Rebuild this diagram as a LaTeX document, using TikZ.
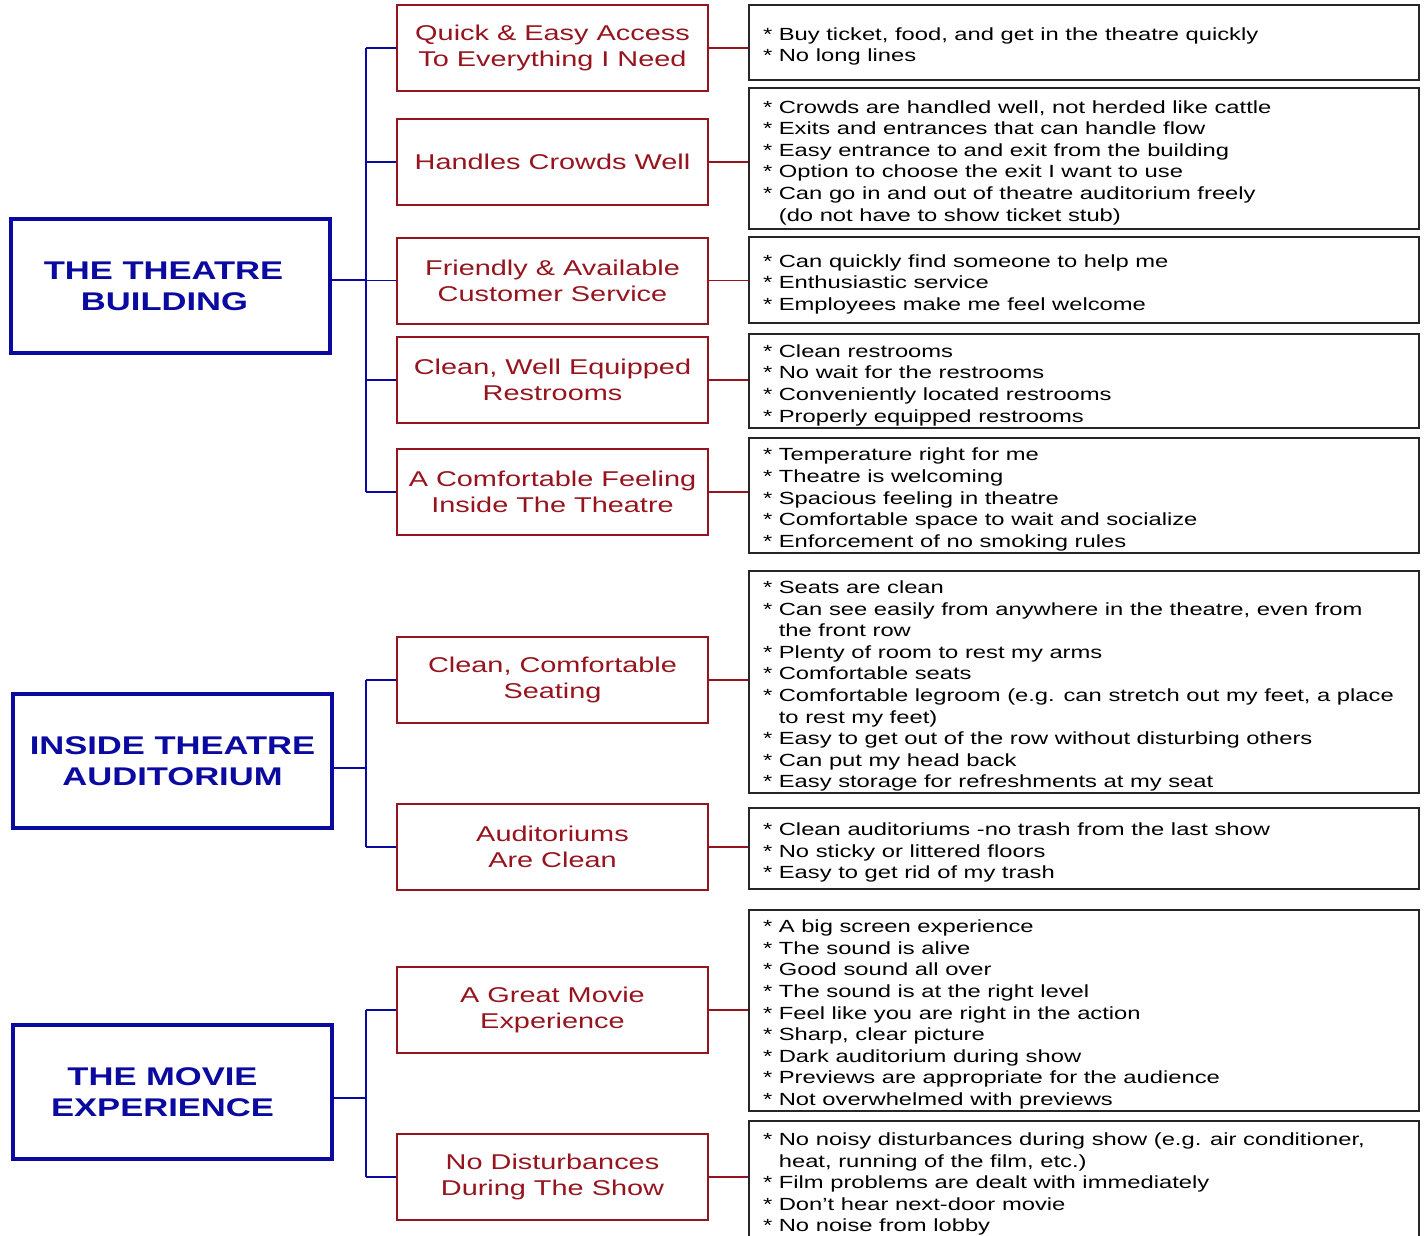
\documentclass[tikz,border=0pt]{standalone}
\usepackage{fontspec}
\setmainfont[FakeStretch=1.35]{Liberation Sans}
\usetikzlibrary{calc}
\definecolor{tblue}{RGB}{10,10,160}
\definecolor{tred}{RGB}{150,20,30}
\newcommand{\bitem}{\relax* }
\newcommand{\hang}{\hphantom{* }}

\begin{document}
\begin{tikzpicture}[x=0.5pt, y=-0.5pt,
    topic/.style={draw=tblue, line width=1.8pt, minimum width=159.5pt, minimum height=67pt,
        align=center, text=tblue, font=\fontsize{12.8}{15.5}\selectfont\bfseries},
    need/.style={draw=tred, line width=1pt, minimum width=155.5pt, minimum height=43pt,
        inner sep=1pt, align=center, text=tred, font=\fontsize{10.7}{13}\selectfont},
    detail/.style={draw=black!85, line width=0.9pt, text width=321pt, inner xsep=7pt,
        inner ysep=0pt, align=flush left, font=\fontsize{8.8}{10.8}\selectfont,
        execute at begin node={\rule{0pt}{10.5pt}}},
    bus/.style={tblue, line width=0.8pt},
    link/.style={tred, line width=0.8pt}]
    \useasboundingbox (0,0) rectangle (1424,1236);
    % three main areas
    \node[topic] (tb) at (170.5,286) {THE THEATRE\hspace*{7pt}\\BUILDING\hspace*{6pt}};
    \node[topic] (ia) at (172.5,761) {INSIDE THEATRE\\AUDITORIUM};
    \node[topic] (me) at (172.5,1092) {THE MOVIE\hspace*{10pt}\\EXPERIENCE\hspace*{10pt}};
    % customer needs
    \foreach \n/\y/\txt in {1/48/{Quick \& Easy Access\\To Everything I Need},
            2/162/{Handles Crowds Well},
            3/280.5/{Friendly \& Available\\Customer Service},
            4/380/{Clean, Well Equipped\\Restrooms},
            5/492/{A Comfortable Feeling\\Inside The Theatre},
            6/680/{Clean, Comfortable\\Seating},
            7/847/{Auditoriums\\Are Clean},
            8/1010/{A Great Movie\\Experience},
            9/1177/{No Disturbances\\During The Show}}
        \node[need] (q\n) at (552.5,\y) {\txt};
    % details
    \node[detail, minimum height=37.5pt] (d1) at (1084,42.5)
        {\bitem Buy ticket, food, and get in the theatre quickly\\
         \bitem No long lines};
    \node[detail, minimum height=70.5pt] (d2) at (1084,158.5)
        {\bitem Crowds are handled well, not herded like cattle\\
         \bitem Exits and entrances that can handle flow\\
         \bitem Easy entrance to and exit from the building\\
         \bitem Option to choose the exit I want to use\\
         \bitem Can go in and out of theatre auditorium freely\\
         \hang(do not have to show ticket stub)};
    \node[detail, minimum height=43pt] (d3) at (1084,280)
        {\bitem Can quickly find someone to help me\\
         \bitem Enthusiastic service\\
         \bitem Employees make me feel welcome};
    \node[detail, minimum height=47pt] (d4) at (1084,381)
        {\bitem Clean restrooms\\
         \bitem No wait for the restrooms\\
         \bitem Conveniently located restrooms\\
         \bitem Properly equipped restrooms};
    \node[detail, minimum height=57.5pt] (d5) at (1084,495.5)
        {\bitem Temperature right for me\\
         \bitem Theatre is welcoming\\
         \bitem Spacious feeling in theatre\\
         \bitem Comfortable space to wait and socialize\\
         \bitem Enforcement of no smoking rules};
    \node[detail, minimum height=111pt] (d6) at (1084,682)
        {\bitem Seats are clean\\
         \bitem Can see easily from anywhere in the theatre, even from\\
         \hang the front row\\
         \bitem Plenty of room to rest my arms\\
         \bitem Comfortable seats\\
         \bitem Comfortable legroom (e.g. can stretch out my feet, a place\\
         \hang to rest my feet)\\
         \bitem Easy to get out of the row without disturbing others\\
         \bitem Can put my head back\\
         \bitem Easy storage for refreshments at my seat};
    \node[detail, minimum height=40.5pt] (d7) at (1084,848.5)
        {\bitem Clean auditoriums -no trash from the last show\\
         \bitem No sticky or littered floors\\
         \bitem Easy to get rid of my trash};
    \node[detail, minimum height=100.5pt] (d8) at (1084,1010.5)
        {\bitem A big screen experience\\
         \bitem The sound is alive\\
         \bitem Good sound all over\\
         \bitem The sound is at the right level\\
         \bitem Feel like you are right in the action\\
         \bitem Sharp, clear picture\\
         \bitem Dark auditorium during show\\
         \bitem Previews are appropriate for the audience\\
         \bitem Not overwhelmed with previews};
    \node[detail, minimum height=59pt] (d9) at (1084,1180)
        {\bitem No noisy disturbances during show (e.g. air conditioner,\\
         \hang heat, running of the film, etc.)\\
         \bitem Film problems are dealt with immediately\\
         \bitem Don't hear next-door movie\\
         \bitem No noise from lobby};
    % blue trees
    \coordinate (j1) at (366,280);
    \coordinate (j2) at (366,768);
    \coordinate (j3) at (366,1098);
    \draw[bus] (tb.east |- j1) -- (j1);
    \draw[bus] (ia.east |- j2) -- (j2);
    \draw[bus] (me.east |- j3) -- (j3);
    \draw[bus] (q1.west -| j1) -- (q5.west -| j1);
    \draw[bus] (q6.west -| j2) -- (q7.west -| j2);
    \draw[bus] (q8.west -| j3) -- (q9.west -| j3);
    \foreach \n in {1,...,5}
        \draw[bus] (q\n.west -| j1) -- (q\n.west);
    \foreach \n in {6,7}
        \draw[bus] (q\n.west -| j2) -- (q\n.west);
    \foreach \n in {8,9}
        \draw[bus] (q\n.west -| j3) -- (q\n.west);
    % red links
    \foreach \n in {1,...,9}
        \draw[link] (q\n.east) -- (q\n.east -| d\n.west);
\end{tikzpicture}
\end{document}
